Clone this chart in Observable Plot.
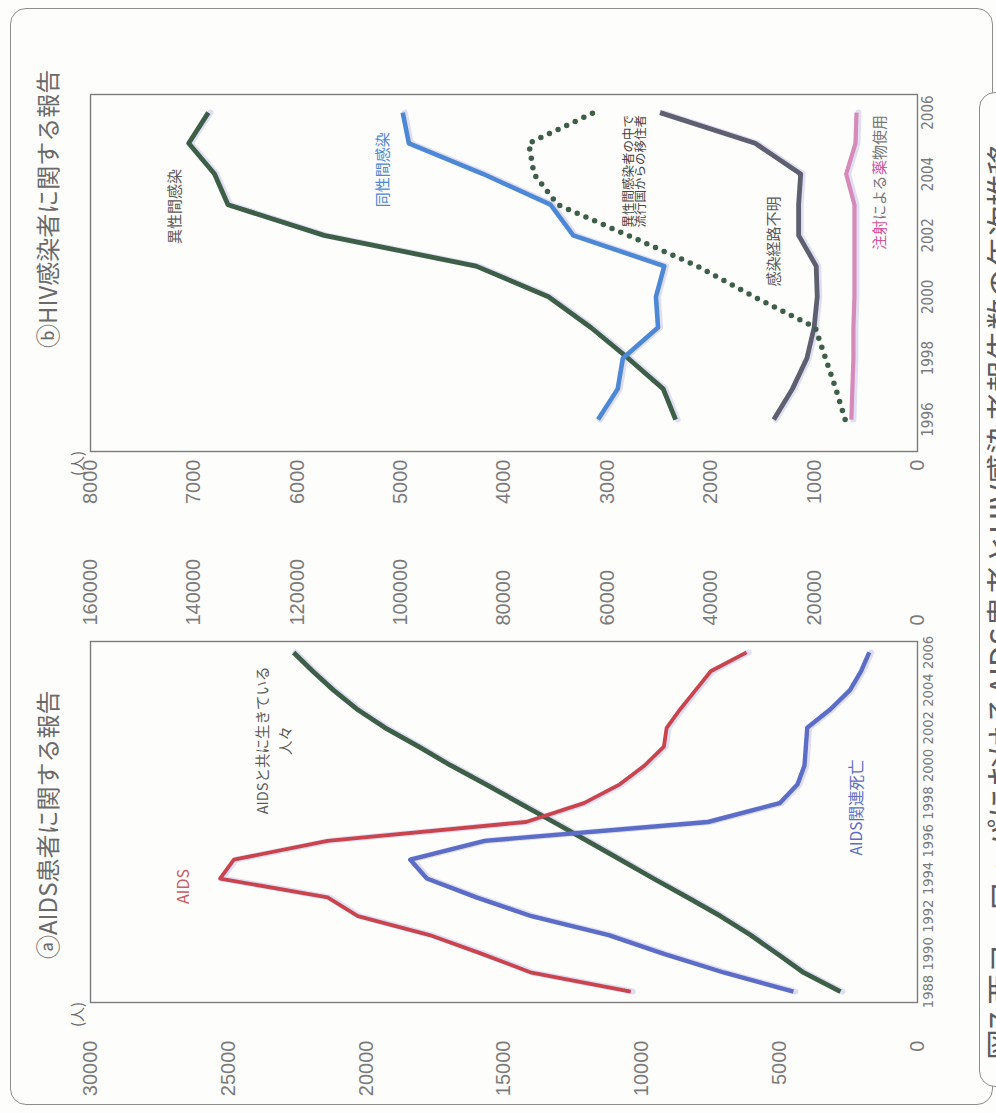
<!DOCTYPE html>
<html><head><meta charset="utf-8">
<script src="https://cdn.jsdelivr.net/npm/d3@7"></script>
<script src="https://cdn.jsdelivr.net/npm/@observablehq/plot@0.6"></script>
<style>
html,body{margin:0;padding:0;background:#fdfdfc;width:996px;height:1113px;overflow:hidden;}
#page{position:absolute;left:0;top:0;width:1113px;height:996px;transform-origin:0 0;transform:translate(0px,1113px) rotate(-90deg);overflow:hidden;background:#fdfdfc;font-family:"Noto Sans CJK JP",sans-serif;}
.abs{position:absolute;white-space:nowrap;line-height:1;}
#outer{position:absolute;left:8px;top:10px;width:1097px;height:983px;border:1.5px solid #8c8c8c;border-radius:16px;box-sizing:border-box;}
#capbox{position:absolute;left:26px;top:979px;width:995px;height:80px;border:1.5px solid #8c8c8c;border-radius:16px;background:#fdfdfc;box-sizing:border-box;}
.title{font-size:24px;color:#6a6a6a;}
.unit{font-size:15px;color:#6a6a6a;}
#caption{font-size:31px;color:#5c5c5c;}
.plot{position:absolute;top:0;}
.plot [aria-label="x-axis tick label"]{font-family:"DejaVu Sans Condensed","DejaVu Sans",sans-serif;font-stretch:condensed;}
</style></head>
<body>
<div id="page">
  <div id="outer"></div>
  <div id="capbox"></div>
  <div class="abs title" style="left:154px;top:35px;">ⓐAIDS患者に関する報告</div>
  <div class="abs title" style="left:765px;top:35px;">ⓑHIV感染者に関する報告</div>
  <div class="abs unit" style="left:86px;top:69px;">(人)</div>
  <div class="abs unit" style="left:637px;top:69px;">(人)</div>
  <div class="abs" id="caption" style="left:53px;top:984px;">図7 西ヨーロッパにおけるAIDS患者とHIV感染者報告数の年次推移</div>
</div>
<script>
// ---------- Panel (a): AIDS reports ----------
const yearsA = [1988,1989,1990,1991,1992,1993,1994,1995,1996,1997,1998,1999,2000,2001,2002,2003,2004,2005,2006];
const aidsCases = [10400,14000,15800,17700,20300,21400,25300,24800,21400,14200,12100,10800,9900,9200,9100,8600,8050,7500,6200];
const aidsDeaths = [4500,7000,9200,11200,14000,16000,17800,18400,15700,7600,5000,4350,4100,4050,4000,3150,2450,2050,1750];
const livingWithAids = [14900,22000,27100,32300,38100,44500,51100,57500,63900,70400,77000,83500,90300,96500,103000,108500,113000,117000,120700];
const leftTicksA = [0,5000,10000,15000,20000,25000,30000];
const rightTicksA = [0,20000,40000,60000,80000,100000,120000,140000,160000];
const yearTicksA = [1988,1990,1992,1994,1996,1998,2000,2002,2004,2006];

// ---------- Panel (b): HIV reports ----------
const yearsB = [1996,1997,1998,1999,2000,2001,2002,2003,2004,2005,2006];
const heterosexual = [2340,2460,2800,3160,3570,4270,5740,6670,6800,7050,6860];
const homosexual = [3090,2900,2850,2510,2530,2450,3330,3550,4200,4920,4980];
const migrants = [700,790,890,990,1580,2130,2800,3480,3710,3760,3130];
const unknownRoute = [1390,1210,1070,1000,970,980,1150,1150,1130,1570,2490];
const injectingDrugs = [640,630,620,620,610,610,610,610,690,600,590];
const leftTicksB = [0,1000,2000,3000,4000,5000,6000,7000,8000];
const yearTicksB = [1996,1998,2000,2002,2004,2006];

// annotation labels (text + anchor in data units)
const labelsA = [
  {t:"AIDS", year:1993.58, value:26600},
  {t:"AIDSと共に生きている\n人々", year:2001.33, value:23400},
  {t:"AIDS関連死亡", year:1997.77, value:2180}
];
const labelsB = [
  {t:"異性間感染", year:2002.94, value:7180},
  {t:"同性間感染", year:2004.14, value:5170},
  {t:"異性間感染者の中で\n流行国からの移住者", year:2004.09, value:2730},
  {t:"感染経路不明", year:2001.80, value:1390}
];
const idLabel = ["注射","による","薬","物使用"];
const idLabelPink = [true,false,true,false];

const K = 30000/160000;
const C = {
  red:"#c9444d", blueA:"#5b6dc6", green:"#3e5f47", blueB:"#4d88d6", gray:"#5e5f6f", pink:"#d58ab8", text:"#5a5a5a"
};
const numFont = '"Liberation Sans", Arial, sans-serif';
const jpFont = '"Noto Sans CJK JP", sans-serif';

const rowsA = (vals, k=1) => yearsA.map((year,i)=>({year, value: vals[i]*k}));
const rowsB = (vals) => yearsB.map((year,i)=>({year, value: vals[i]}));
const shadow = {stroke:"#bdb8ea", strokeWidth:6, strokeOpacity:0.45, dy:2, strokeLinejoin:"round"};
const lineOpt = (stroke, w=4.2) => ({x:"year", y:"value", stroke, strokeWidth:w, strokeLinejoin:"round", strokeLinecap:"butt"});

const svgA = Plot.plot({
  width:560, height:996,
  marginLeft:110, marginRight:89, marginTop:90, marginBottom:79,
  x:{domain:[1987.42,2006.58]},
  y:{domain:[0,30000]},
  style:{fontFamily:numFont, fontSize:"20px", color:"#7a7a7a", background:"transparent", overflow:"visible"},
  marks:[
    Plot.axisY({ticks:leftTicksA, tickSize:0, tickPadding:38, tickFormat:d3.format("d"), label:null, fontSize:20}),
    Plot.axisY({anchor:"right", ticks:rightTicksA.map(v=>v*K), tickSize:0, tickPadding:16, tickFormat:v=>d3.format("d")(Math.round(v/K)), label:null, fontSize:20}),
    Plot.axisX({ticks:yearTicksA, tickSize:0, tickPadding:5, tickFormat:d3.format("d"), label:null, fontSize:14.5}),
    Plot.line(rowsA(livingWithAids,K), {x:"year", y:"value", ...shadow}),
    Plot.line(rowsA(aidsDeaths), {x:"year", y:"value", ...shadow}),
    Plot.line(rowsA(aidsCases), {x:"year", y:"value", ...shadow}),
    Plot.line(rowsA(livingWithAids,K), lineOpt(C.green,4.8)),
    Plot.line(rowsA(aidsDeaths), lineOpt(C.blueA,4.4)),
    Plot.line(rowsA(aidsCases), lineOpt(C.red,3.8)),
    Plot.frame({stroke:"#7c7c7c", strokeWidth:1.4}),
    Plot.text([labelsA[0]], {x:"year", y:"value", text:"t", fill:"#cf5a62", fontSize:16, fontFamily:jpFont}),
    Plot.text([labelsA[1]], {x:"year", y:"value", text:"t", fill:C.text, fontSize:14.5, lineHeight:1.55, fontFamily:jpFont}),
    Plot.text([labelsA[2]], {x:"year", y:"value", text:"t", fill:"#5b6dc6", fontSize:15.5, fontFamily:jpFont})
  ]
});

const charYears = 15/30.7;
const idStart = 2003.72 - 4.5*charYears;
let off = 0;
const idSegs = idLabel.map((t,i)=>{ const s = {t, year: idStart + off*charYears, value:360, pink:idLabelPink[i]}; off += t.length; return s; });

const svgB = Plot.plot({
  width:553, height:996,
  marginLeft:101, marginRight:95, marginTop:90, marginBottom:79,
  x:{domain:[1994.96,2006.59]},
  y:{domain:[0,8000]},
  style:{fontFamily:numFont, fontSize:"20px", color:"#7a7a7a", background:"transparent", overflow:"visible"},
  marks:[
    Plot.axisY({ticks:leftTicksB, tickSize:0, tickPadding:8, tickFormat:d3.format("d"), label:null, fontSize:20}),
    Plot.axisX({ticks:yearTicksB, tickSize:0, tickPadding:5, tickFormat:d3.format("d"), label:null, fontSize:15}),
    Plot.line(rowsB(heterosexual), {x:"year", y:"value", ...shadow}),
    Plot.line(rowsB(homosexual), {x:"year", y:"value", ...shadow}),
    Plot.line(rowsB(unknownRoute), {x:"year", y:"value", ...shadow}),
    Plot.line(rowsB(injectingDrugs), {x:"year", y:"value", ...shadow}),
    Plot.line(rowsB(heterosexual), lineOpt(C.green,4.8)),
    Plot.line(rowsB(homosexual), lineOpt(C.blueB,4.6)),
    Plot.line(rowsB(unknownRoute), lineOpt(C.gray,4.8)),
    Plot.line(rowsB(injectingDrugs), lineOpt(C.pink,4.2)),
    Plot.line(rowsB(migrants), {x:"year", y:"value", stroke:C.green, strokeWidth:5.5, strokeDasharray:"0 9.5", strokeLinecap:"round", strokeLinejoin:"round"}),
    Plot.frame({stroke:"#7c7c7c", strokeWidth:1.4}),
    Plot.text([labelsB[0]], {x:"year", y:"value", text:"t", fill:C.text, fontSize:15, fontFamily:jpFont}),
    Plot.text([labelsB[1]], {x:"year", y:"value", text:"t", fill:"#4d88d6", fontSize:15, fontFamily:jpFont}),
    Plot.text([labelsB[2]], {x:"year", y:"value", text:"t", fill:"#444", fontSize:12.5, lineHeight:0.95, fontFamily:jpFont}),
    Plot.text([labelsB[3]], {x:"year", y:"value", text:"t", fill:C.text, fontSize:15, fontFamily:jpFont}),
    Plot.text(idSegs.filter(d=>d.pink), {x:"year", y:"value", text:"t", fill:"#d2549a", textAnchor:"start", fontSize:15, fontFamily:jpFont}),
    Plot.text(idSegs.filter(d=>!d.pink), {x:"year", y:"value", text:"t", fill:"#777", textAnchor:"start", fontSize:15, fontFamily:jpFont})
  ]
});

svgA.classList.add("plot"); svgA.style.left = "0px";
svgB.classList.add("plot"); svgB.style.left = "560px";
const page = document.getElementById("page");
page.insertBefore(svgB, document.getElementById("capbox"));
page.insertBefore(svgA, svgB);
</script>
</body></html>
